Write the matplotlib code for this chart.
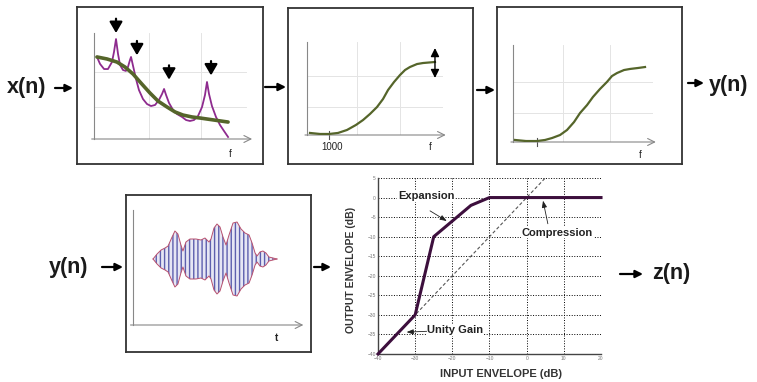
import matplotlib
matplotlib.use("Agg")
import matplotlib.pyplot as plt

plt.rcParams['font.family'] = ['Liberation Sans', 'DejaVu Sans']

# ---- panel 1 : input spectrum (purple) and its smooth trend (olive)
spec_f = [0.19, 0.39, 0.65, 0.90, 1.16, 1.29, 1.42, 1.55, 1.68, 1.87, 2.06, 2.19, 2.32, 2.39,
          2.52, 2.71, 2.90, 3.16, 3.42, 3.68, 3.94, 4.19, 4.39, 4.52, 4.65, 4.84, 5.10, 5.35,
          5.68, 5.94, 6.19, 6.45, 6.71, 6.97, 7.16, 7.29, 7.42, 7.61, 7.87, 8.13, 8.39, 8.65]
spec_level = [7.74, 7.08, 6.60, 6.60, 7.26, 8.21, 9.43, 8.02, 6.98, 6.51, 6.42, 6.79, 7.45, 7.74,
              6.89, 5.66, 4.62, 3.77, 3.30, 3.11, 3.21, 3.68, 4.25, 4.72, 4.15, 3.40, 2.74, 2.36,
              2.08, 1.79, 1.70, 1.79, 2.17, 3.02, 4.15, 5.38, 4.25, 3.11, 2.08, 1.32, 0.75, 0.19]
smooth_f = [0.19, 0.84, 1.48, 2.00, 2.52, 3.03, 3.61, 4.13, 4.71, 5.23, 5.74, 6.32, 6.84, 7.74, 8.65]
smooth_level = [7.74, 7.55, 7.26, 6.79, 6.13, 5.28, 4.34, 3.58, 3.02, 2.55, 2.26, 2.08, 1.98, 1.79, 1.60]
peak_arrow_f = [1.42, 2.77, 4.84, 7.55]
peak_arrow_tip = [10.0, 7.9, 5.6, 6.0]
grid1_f = [3.55, 6.90]
grid1_level = [3.02, 6.32]

# ---- panel 2 : pre-emphasis curve
eq_f = [0.22, 0.96, 1.62, 2.28, 2.94, 3.60, 4.12, 4.63, 5.15, 5.59, 5.96, 6.40, 6.84, 7.21,
        7.57, 8.09, 8.53, 9.41]
eq_gain = [0.22, 0.11, 0.11, 0.22, 0.54, 1.08, 1.61, 2.26, 3.01, 3.87, 4.84, 5.70, 6.45, 6.99,
           7.31, 7.63, 7.74, 7.85]
eq_tick_f = 1.62
eq_tick_label = '1000'
eq_adjust = (9.41, 6.13, 9.35)
grid2_f = [3.68, 6.84]
grid2_gain = [3.01, 6.34]

# ---- panel 3 : resulting curve
out_f = [0.14, 0.93, 1.71, 2.29, 2.79, 3.36, 3.86, 4.36, 4.79, 5.29, 5.71, 6.21, 6.71, 7.07,
         7.43, 7.93, 8.36, 8.93, 9.43]
out_gain = [0.21, 0.10, 0.10, 0.21, 0.41, 0.72, 1.24, 2.06, 2.99, 3.81, 4.64, 5.46, 6.19, 6.80,
            7.11, 7.42, 7.53, 7.63, 7.73]
out_tick_f = 1.71
grid3_f = [3.57, 6.93]
grid3_gain = [2.99, 6.19]

# ---- panel 4 : time signal envelope
env_t = [1.20, 1.44, 1.68, 1.92, 2.10, 2.34, 2.51, 2.69, 2.87, 2.99, 3.17, 3.41, 3.77, 4.07,
         4.31, 4.55, 4.67, 4.85, 5.03, 5.21, 5.39, 5.57, 5.75, 5.99, 6.23, 6.47, 6.71, 6.95,
         7.13, 7.31, 7.43, 7.60, 7.78, 7.96, 8.14, 8.38, 8.62]
env_amp = [0.0, 0.5, 0.9, 1.1, 1.3, 2.2, 2.8, 2.5, 1.4, 0.8, 1.7, 2.0, 2.0, 1.9,
           2.1, 1.7, 2.0, 3.1, 3.5, 3.2, 2.2, 1.4, 2.4, 3.6, 3.7, 3.0, 2.6, 2.4,
           1.6, 0.6, 0.3, 0.7, 0.8, 0.6, 0.2, 0.1, 0.0]

# ---- panel 5 : compressor / expander static curve
comp_in = [-40, -30, -25, -15, -10, 20]
comp_out = [-40, -30, -10, -2, 0, 0]
unity_in = [-40, 5]
unity_out = [-40, 5]
comp_xticks = list(range(-40, 21, 10))
comp_yticks = list(range(-40, 6, 5))

W, H = 757, 382
fig = plt.figure(figsize=(W / 100, H / 100), dpi=100)
fig.patch.set_facecolor('white')

def rect(x0, y0, x1, y1):
    # pixel box (top-left origin) -> figure fraction
    return [x0 / W, (H - y1) / H, (x1 - x0) / W, (y1 - y0) / H]

# background layer for the flow arrows and signal names
bg = fig.add_axes([0, 0, 1, 1])
bg.set_xlim(0, W)
bg.set_ylim(H, 0)
bg.axis('off')

flow = [((55, 88), (73, 88)), ((265, 87), (286, 87)), ((477, 90), (495, 90)),
        ((688, 83), (704, 83)), ((102, 267), (123, 267)), ((314, 267), (331, 267)),
        ((620, 274), (643, 274))]
for a, b in flow:
    bg.annotate('', xy=b, xytext=a,
                arrowprops=dict(arrowstyle='-|>', color='black', lw=1.6, mutation_scale=11,
                                shrinkA=0, shrinkB=0))

for name, x, y in [('x(n)', 7, 88), ('y(n)', 709, 85), ('y(n)', 49, 267), ('z(n)', 652, 274)]:
    bg.text(x, y, name, fontsize=15.5, fontweight='bold', ha='left', va='center', color='#1a1a1a')

boxcol = '#333333'
for r in [rect(77, 7, 263, 164), rect(288, 8, 473, 164), rect(497, 7, 682, 164),
          rect(126, 195, 311, 352)]:
    b = fig.add_axes(r)
    b.set_xticks([])
    b.set_yticks([])
    for s in b.spines.values():
        s.set_color(boxcol)
        s.set_linewidth(1.3)

axis_col = '#888888'
grid_col = '#e4e4e4'
olive = '#55652a'

def inner(r, ylim=(0, 10)):
    ax = fig.add_axes(r)
    ax.set_xlim(0, 10)
    ax.set_ylim(*ylim)
    ax.axis('off')
    ax.plot([0, 0], [ylim[0], ylim[1]], color=axis_col, lw=0.8, clip_on=False)
    ax.annotate('', xy=(10.2, ylim[0]), xytext=(-0.15, ylim[0]), annotation_clip=False,
                arrowprops=dict(arrowstyle='->,head_length=0.5,head_width=0.25',
                                color=axis_col, lw=0.8, shrinkA=0, shrinkB=0))
    return ax

# panel 1
ax1 = inner(rect(94, 33, 249, 139))
for g in grid1_f:
    ax1.axvline(g, color=grid_col, lw=0.7, zorder=0)
for g in grid1_level:
    ax1.axhline(g, xmax=0.98, color=grid_col, lw=0.7, zorder=0)
ax1.plot(spec_f, spec_level, color='#8e2b8e', lw=1.3, zorder=3)
ax1.plot(smooth_f, smooth_level, color=olive, lw=2.6, zorder=4, solid_capstyle='round')
for f, tip in zip(peak_arrow_f, peak_arrow_tip):
    ax1.annotate('', xy=(f, tip), xytext=(f, tip + 1.35), annotation_clip=False,
                 arrowprops=dict(arrowstyle='-|>,head_length=0.6,head_width=0.35',
                                 color='black', lw=1.6, mutation_scale=11, shrinkA=0, shrinkB=0))
ax1.text(8.77, -1.45, 'f', fontsize=7, ha='center', va='center', color='#222')

# panel 2
ax2 = inner(rect(307, 42, 443, 135))
for g in grid2_f:
    ax2.axvline(g, color=grid_col, lw=0.7, zorder=0)
for g in grid2_gain:
    ax2.axhline(g, color=grid_col, lw=0.7, zorder=0)
ax2.plot(eq_f, eq_gain, color=olive, lw=1.6, zorder=3)
ax2.plot([eq_tick_f, eq_tick_f], [-0.4, 0.4], color='#555', lw=0.8, clip_on=False)
ax2.text(eq_tick_f + 0.25, -1.3, eq_tick_label, fontsize=7, ha='center', va='center', color='#222')
ax2.text(9.04, -1.3, 'f', fontsize=7, ha='center', va='center', color='#222')
ax2.annotate('', xy=(eq_adjust[0], eq_adjust[2]), xytext=(eq_adjust[0], eq_adjust[1]),
             annotation_clip=False,
             arrowprops=dict(arrowstyle='<|-|>,head_length=0.5,head_width=0.25', color='black',
                             lw=1.0, mutation_scale=10, shrinkA=0, shrinkB=0))

# panel 3
ax3 = inner(rect(513, 45, 653, 142))
for g in grid3_f:
    ax3.axvline(g, color=grid_col, lw=0.7, zorder=0)
for g in grid3_gain:
    ax3.axhline(g, color=grid_col, lw=0.7, zorder=0)
ax3.plot(out_f, out_gain, color=olive, lw=1.6, zorder=3)
ax3.plot([out_tick_f, out_tick_f], [-0.4, 0.4], color='#555', lw=0.8, clip_on=False)
ax3.text(9.07, -1.35, 'f', fontsize=7, ha='center', va='center', color='#222')

# panel 4
ax4 = inner(rect(133, 210, 300, 325), ylim=(-6.6, 4.9))
lo = [-a for a in env_amp]
ax4.fill_between(env_t, lo, env_amp, facecolor='#e6e6f4', edgecolor='#5d5fae',
                 hatch='||||', linewidth=0, zorder=2)
ax4.plot(env_t, env_amp, color='#b8506e', lw=0.7, zorder=3)
ax4.plot(env_t, lo, color='#b8506e', lw=0.7, zorder=3)
ax4.text(8.62, -7.9, 't', fontsize=7, fontweight='bold', ha='center', va='center', color='#222')

# panel 5 : compressor chart
ax5 = fig.add_axes(rect(378, 178, 601, 354))
ax5.set_xlim(-40, 20)
ax5.set_ylim(-40, 5)
ax5.set_xticks(comp_xticks)
ax5.set_yticks(comp_yticks)
ax5.grid(True, linestyle=':', color='black', lw=0.7)
ax5.tick_params(labelsize=3.5, labelcolor='#777', length=0, pad=1.5)
for s in ['top', 'right']:
    ax5.spines[s].set_visible(False)
for s in ['left', 'bottom']:
    ax5.spines[s].set_color('#444')
    ax5.spines[s].set_linewidth(1.0)
ax5.plot(unity_in, unity_out, color='#555', lw=0.8, dashes=(3, 2), zorder=3)
ax5.plot(comp_in, comp_out, color='#3d0f3d', lw=2.2, zorder=4, clip_on=False)
ax5.set_xlabel('INPUT ENVELOPE (dB)', fontsize=8, fontweight='bold', color='#333')
ax5.set_ylabel('OUTPUT ENVELOPE (dB)', fontsize=7.5, fontweight='bold', color='#333')
ax5.xaxis.set_label_coords(0.55, -0.085)
ax5.yaxis.set_label_coords(-0.1, 0.48)

arrow_kw = dict(arrowstyle='-|>,head_length=0.4,head_width=0.15', color='#222', lw=0.6,
                mutation_scale=10, shrinkA=0, shrinkB=0)
lab_kw = dict(fontsize=8, fontweight='bold', ha='left', va='center', color='#222',
              bbox=dict(facecolor='white', edgecolor='none', pad=0.5))
ax5.text(-34.6, 0.3, 'Expansion', **lab_kw)
ax5.annotate('', xy=(-21.5, -6.0), xytext=(-26.0, -3.4), arrowprops=arrow_kw)
ax5.text(-1.3, -9.0, 'Compression', **lab_kw)
ax5.annotate('', xy=(4.4, -0.8), xytext=(5.7, -6.7), arrowprops=arrow_kw)
ax5.text(-26.8, -33.9, 'Unity Gain', **lab_kw)
ax5.annotate('', xy=(-32.3, -34.4), xytext=(-26.9, -34.2), arrowprops=arrow_kw)

fig.savefig('out.png', dpi=100, facecolor='white')
